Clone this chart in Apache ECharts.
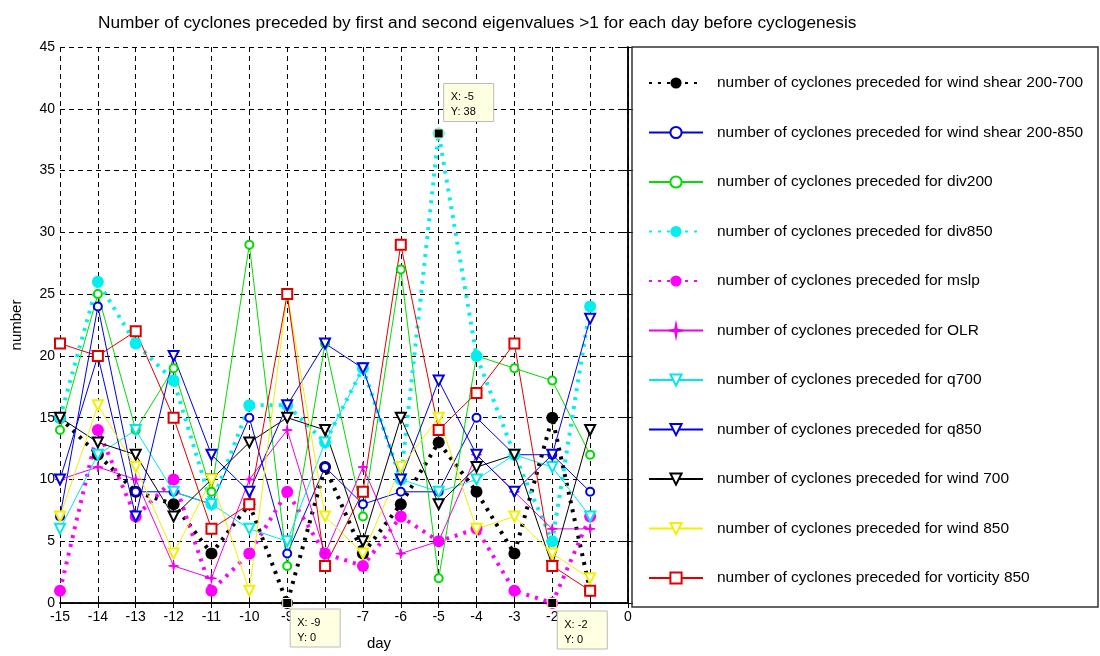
<!DOCTYPE html>
<html>
<head>
<meta charset="utf-8">
<script src="https://cdn.jsdelivr.net/npm/echarts@6/dist/echarts.min.js"></script>
<style>
html, body { margin: 0; padding: 0; background: #fff; }
#chart { width: 1100px; height: 656px; }
</style>
</head>
<body>
<div id="chart"></div>
<script>
// days before cyclogenesis
var days = [-15, -14, -13, -12, -11, -10, -9, -8, -7, -6, -5, -4, -3, -2, -1];

// number of cyclones per parameter
var windShear700 = [15, 12, 9, 8, 4, 8, 0, 11, 4, 8, 13, 9, 4, 15, 1];
var windShear850 = [7, 24, 9, 9, 8, 15, 4, 11, 8, 9, 9, 15, 12, 12, 9];
var div200 = [14, 25, 14, 19, 9, 29, 3, 21, 7, 27, 2, 20, 19, 18, 12];
var div850 = [15, 26, 21, 18, 8, 16, 16, 13, 19, 10, 38, 20, 12, 5, 24];
var mslp = [1, 14, 7, 10, 1, 4, 9, 4, 3, 7, 5, 6, 1, 0, 7];
var olr = [10, 11, 10, 3, 2, 10, 14, 4, 11, 4, 5, 12, 9, 6, 6];
var q700 = [6, 12, 14, 9, 8, 6, 5, 13, 19, 10, 9, 10, 12, 11, 7];
var q850 = [10, 20, 7, 20, 12, 9, 16, 21, 19, 10, 18, 12, 9, 12, 23];
var wind700 = [15, 13, 12, 7, 10, 13, 15, 14, 5, 15, 8, 11, 12, 3, 14];
var wind850 = [7, 16, 11, 4, 10, 1, 25, 7, 4, 11, 15, 6, 7, 4, 2];
var vort850 = [21, 20, 22, 15, 6, 8, 25, 3, 9, 29, 14, 17, 21, 3, 1];

// data tips shown on the figure [x, y]
var tips = [[-5, 38], [-9, 0], [-2, 0]];

var font = "'Liberation Sans', Arial, sans-serif";
var starPath = 'path://M0,-10L1.6,-1.6L10,0L1.6,1.6L0,10L-1.6,1.6L-10,0L-1.6,-1.6Z';

function pairs(ys) {
    return days.map(function (d, i) { return [d, ys[i]]; });
}

function solid(name, ys, color, symbol, size, rotate) {
    return {
        name: name, type: 'line', data: pairs(ys),
        symbol: symbol, symbolSize: size, symbolRotate: rotate || 0,
        showAllSymbol: true,
        lineStyle: { color: color, width: 1 },
        itemStyle: { color: color, borderColor: color, borderWidth: 1 },
        emphasis: { disabled: true },
        animation: false
    };
}

function dotted(name, ys, color) {
    return {
        name: name, type: 'line', data: pairs(ys),
        symbol: 'circle', symbolSize: 12,
        showAllSymbol: true,
        lineStyle: { color: color, width: 4, type: [3, 6] },
        itemStyle: { color: color },
        emphasis: { disabled: true },
        animation: false
    };
}

var pre = 'number of cyclones preceded for ';
var series = [
    dotted(pre + 'wind shear 200-700', windShear700, '#000000'),
    solid(pre + 'wind shear 200-850', windShear850, '#0000e0', 'emptyCircle', 8),
    solid(pre + 'div200', div200, '#00dd00', 'emptyCircle', 8),
    dotted(pre + 'div850', div850, '#00f0f0'),
    dotted(pre + 'mslp', mslp, '#ff00ff'),
    solid(pre + 'OLR', olr, '#ee00ee', starPath, 10),
    solid(pre + 'q700', q700, '#00e8e8', 'emptyTriangle', 10, 180),
    solid(pre + 'q850', q850, '#0000e0', 'emptyTriangle', 10, 180),
    solid(pre + 'wind 700', wind700, '#000000', 'emptyTriangle', 10, 180),
    solid(pre + 'wind 850', wind850, '#f0f000', 'emptyTriangle', 10, 180),
    solid(pre + 'vorticity 850', vort850, '#e00000', 'emptyRect', 10)
];

var gridLine = { show: true, lineStyle: { color: '#000', type: [5, 4], width: 1 } };

var chart = echarts.init(document.getElementById('chart'));
chart.setOption({
    backgroundColor: '#fff',
    animation: false,
    title: {
        text: 'Number of cyclones preceded by first and second eigenvalues >1 for each day before cyclogenesis',
        left: 93, top: 10,
        textStyle: { fontFamily: font, fontSize: 17.3, fontWeight: 'normal', color: '#000' }
    },
    grid: { left: 60, right: 472, top: 47, bottom: 52, show: false },
    xAxis: [{
        type: 'value', min: -15, max: 0, interval: 1,
        name: 'day', nameLocation: 'middle', nameGap: 33,
        nameTextStyle: { fontFamily: font, fontSize: 15, color: '#000', padding: [0, 0, 0, 70] },
        axisLine: { lineStyle: { color: '#000', width: 1.5 } },
        axisTick: { inside: true, length: 5, lineStyle: { color: '#000' } },
        axisLabel: { fontFamily: font, fontSize: 14, color: '#000', margin: 7 },
        splitLine: gridLine
    }, {
        type: 'value', min: -15, max: 0, interval: 1, position: 'top',
        axisLine: { lineStyle: { color: '#000', width: 1.5 } },
        axisTick: { inside: true, length: 5, lineStyle: { color: '#000' } },
        axisLabel: { show: false }, splitLine: { show: false }
    }],
    yAxis: [{
        type: 'value', min: 0, max: 45, interval: 5,
        name: 'number', nameLocation: 'middle', nameGap: 36, nameRotate: 90,
        nameTextStyle: { fontFamily: font, fontSize: 15, color: '#000' },
        axisLine: { lineStyle: { color: '#000', width: 1.5 } },
        axisTick: { inside: true, length: 5, lineStyle: { color: '#000' } },
        axisLabel: { fontFamily: font, fontSize: 14, color: '#000', margin: 5 },
        splitLine: gridLine
    }, {
        type: 'value', min: 0, max: 45, interval: 5, position: 'right',
        axisLine: { lineStyle: { color: '#000', width: 1.5 } },
        axisTick: { inside: true, length: 5, lineStyle: { color: '#000' } },
        axisLabel: { show: false }, splitLine: { show: false }
    }],
    legend: {
        orient: 'vertical', left: 643, top: 70,
        itemWidth: 54, itemHeight: 14, itemGap: 33.5,
        selectedMode: false,
        textStyle: { fontFamily: font, fontSize: 15.5, color: '#000', padding: [0, 0, 0, 9] },
        data: series.map(function (s) { return s.name; })
    },
    series: series
});

// legend frame and data tips
var graphics = [{
    type: 'rect', shape: { x: 632, y: 47, width: 466, height: 560 },
    style: { fill: 'none', stroke: '#333', lineWidth: 1.5 }, z: 1
}];
var tipOffsets = [[5, -50], [3, 6], [5, 8]];
tips.forEach(function (t, i) {
    var p = chart.convertToPixel({ gridIndex: 0 }, t);
    var bx = p[0] + tipOffsets[i][0], by = p[1] + tipOffsets[i][1];
    graphics.push({
        type: 'rect', shape: { x: bx, y: by, width: 50, height: 38 },
        style: { fill: '#ffffe1', stroke: '#bbbbbb', lineWidth: 1 }, z: 100
    });
    graphics.push({
        type: 'text', x: bx + 7, y: by + 6, z: 101,
        style: { text: 'X: ' + t[0] + '\nY: ' + t[1], fill: '#000', font: '11px ' + font, lineHeight: 15 }
    });
    graphics.push({
        type: 'rect', shape: { x: p[0] - 4.5, y: p[1] - 4.5, width: 9, height: 9 },
        style: { fill: '#000', stroke: '#ffffcc', lineWidth: 1 }, z: 100
    });
});
chart.setOption({ graphic: graphics });
</script>
</body>
</html>
